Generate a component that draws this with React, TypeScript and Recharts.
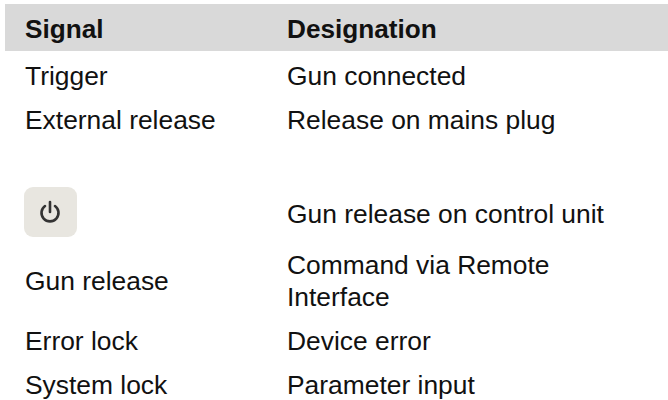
import React from "react";
import { ComposedChart, XAxis, YAxis, Scatter, ReferenceArea } from "recharts";

const signalLabels = ["Trigger", "External release", "Gun release", "Error lock", "System lock"];
const signalRows = [76.5, 121, 281.5, 341.5, 386];
const designationLabels = [
  "Gun connected",
  "Release on mains plug",
  "Gun release on control unit",
  "Command via Remote",
  "Interface",
  "Device error",
  "Parameter input",
];
const designationRows = [76.5, 121, 214.5, 265.5, 297.5, 341.5, 386];
const headerLabels = ["Signal", "Designation"];
const headerRow = 29.3;
const columns = [25, 287];
const iconRow = [{ x: 50, y: 212 }];

const signalData = signalLabels.map((label, i) => ({ x: columns[0], y: signalRows[i], label }));
const designationData = designationLabels.map((label, i) => ({ x: columns[1], y: designationRows[i], label }));
const headerData = headerLabels.map((label, i) => ({ x: columns[i], y: headerRow, label }));

const FONT = '"Liberation Sans", Arial, sans-serif';

const TextMark = (weight: number, size: number) => (props: any) => (
  <text
    x={props.cx}
    y={props.cy}
    dy="0.32em"
    fontFamily={FONT}
    fontSize={size}
    fontWeight={weight}
    fill="#111111"
  >
    {props.payload.label}
  </text>
);

const IconMark = (props: any) => {
  const { cx, cy } = props;
  return (
    <g>
      <rect x={cx - 26} y={cy - 25} width={53} height={50} rx={9} fill="#e8e6e0" />
      <path
        d={`M ${cx - 5} ${cy - 6} A 8.5 8.5 0 1 0 ${cx + 5} ${cy - 6}`}
        fill="none"
        stroke="#333333"
        strokeWidth={2.6}
        strokeLinecap="round"
      />
      <line x1={cx} y1={cy - 10} x2={cx} y2={cy} stroke="#333333" strokeWidth={2.6} strokeLinecap="round" />
    </g>
  );
};

export default function App() {
  return (
    <div style={{ position: "absolute", left: 0, top: 0, width: 668, height: 400, background: "#ffffff" }}>
      <ComposedChart width={668} height={400} margin={{ top: 0, right: 0, bottom: 0, left: 0 }}>
        <XAxis type="number" dataKey="x" domain={[0, 668]} hide />
        <YAxis type="number" dataKey="y" domain={[0, 400]} reversed hide />
        <ReferenceArea x1={5} x2={668} y1={4} y2={51} fill="#d9d9d9" fillOpacity={1} stroke="none" />
        <Scatter data={iconRow} isAnimationActive={false} shape={IconMark} />
        <Scatter data={headerData} isAnimationActive={false} shape={TextMark(700, 26.2)} />
        <Scatter data={signalData} isAnimationActive={false} shape={TextMark(400, 26.4)} />
        <Scatter data={designationData} isAnimationActive={false} shape={TextMark(400, 26.4)} />
      </ComposedChart>
    </div>
  );
}
